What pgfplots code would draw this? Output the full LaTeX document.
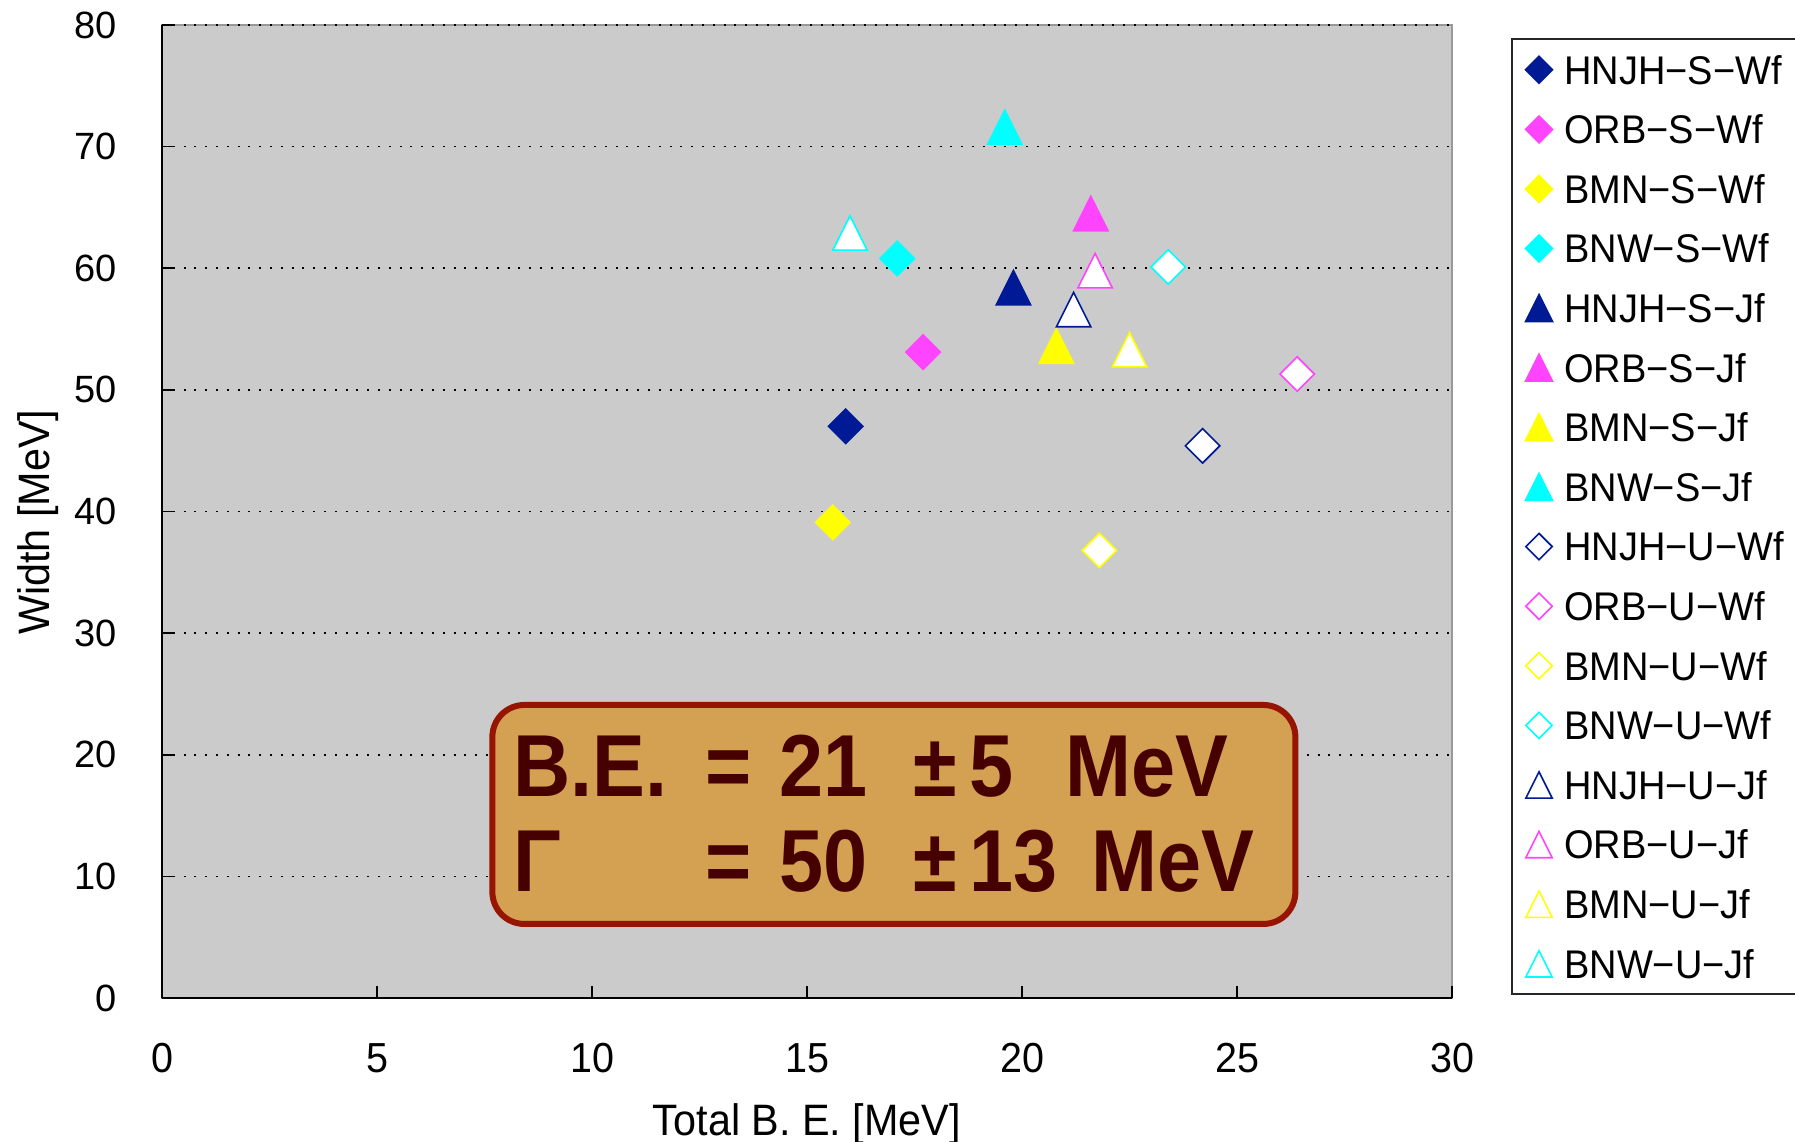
\documentclass[border=0pt]{standalone}
\usepackage{fontspec}
\setmainfont{Liberation Sans}
\newfontfamily\narrow[FakeStretch=0.94]{Liberation Sans}
\newfontfamily\legfont[FakeStretch=0.95]{Liberation Sans}
\newfontfamily\boxfont[FakeStretch=0.9]{Liberation Sans}
\usepackage{pgfplots}
\pgfplotsset{compat=1.18}

\definecolor{cNavy}{RGB}{0,26,150}
\definecolor{cMag}{RGB}{255,68,255}
\definecolor{cYel}{RGB}{255,255,0}
\definecolor{cCya}{RGB}{0,255,255}
\definecolor{bg}{RGB}{203,203,203}
\definecolor{boxfill}{RGB}{212,160,82}
\definecolor{boxdraw}{RGB}{150,20,0}
\definecolor{boxtext}{RGB}{70,0,0}

% Excel-like markers: square diamond and triangle centred on the point
\pgfdeclareplotmark{xdia}{%
  \pgfpathmoveto{\pgfqpoint{0pt}{\pgfplotmarksize}}%
  \pgfpathlineto{\pgfqpoint{-\pgfplotmarksize}{0pt}}%
  \pgfpathlineto{\pgfqpoint{0pt}{-\pgfplotmarksize}}%
  \pgfpathlineto{\pgfqpoint{\pgfplotmarksize}{0pt}}%
  \pgfpathclose\pgfusepathqfillstroke}
\pgfdeclareplotmark{xtri}{%
  \pgfpathmoveto{\pgfqpoint{0pt}{\pgfplotmarksize}}%
  \pgfpathlineto{\pgfqpoint{-\pgfplotmarksize}{-\pgfplotmarksize}}%
  \pgfpathlineto{\pgfqpoint{\pgfplotmarksize}{-\pgfplotmarksize}}%
  \pgfpathclose\pgfusepathqfillstroke}

\pgfplotsset{
  pt/.style 2 args={only marks, mark=#1, mark size=4.3pt, color=#2,
    mark options={draw=#2, line width=0.5pt},
    legend image code/.code={\draw[##1,mark size=3.3pt] plot coordinates {(0pt,0pt)};}},
  sfill/.style 2 args={pt={#1}{#2}, mark options={fill=#2}},
  sopen/.style 2 args={pt={#1}{#2}, mark options={fill=white, line width=0.4pt}},
}

\begin{document}
\begin{tikzpicture}
\begin{axis}[
  scale only axis, width=322.5pt, height=243.25pt,
  xmin=0, xmax=30, ymin=0, ymax=80,
  xtick={0,5,...,30}, ytick={0,10,...,80},
  axis background/.style={fill=bg, draw=gray!80, line width=0.4pt},
  axis x line*=bottom, axis y line*=left,
  axis line style={black, line width=0.6pt, -},
  tick align=inside, major tick length=3pt,
  tick style={black, line width=0.4pt},
  ymajorgrids,
  grid style={black, line width=0.4pt, dash pattern=on 0.5pt off 2.2pt},
  /pgf/number format/assume math mode=true,
  xticklabel style={font=\narrow\fontsize{10.5}{12}\selectfont},
  yticklabel style={font=\fontsize{9.5}{11}\selectfont},
  xticklabel shift=7.8pt, yticklabel shift=7.7pt,
  xlabel={Total B.\ E.\ [MeV]},
  ylabel={Width [MeV]},
  xlabel style={font=\narrow\fontsize{11}{12}\selectfont, at={(axis description cs:0.5,-0.1295)}, anchor=center},
  ylabel style={font=\narrow\fontsize{11}{12}\selectfont, at={(axis description cs:-0.096,0.489)}, anchor=center},
  legend cell align=left,
  legend style={at={(axis description cs:1,1)}, anchor=north west,
    xshift=14.75pt, yshift=-3.3pt, draw=black!85, line width=0.5pt, fill=white,
    font=\legfont\fontsize{10}{12}\selectfont,
    inner xsep=3.45pt, inner ysep=0.2pt, row sep=0pt, column sep=3.0pt,
    nodes={inner sep=0pt, text height=11.05pt, text depth=3.85pt}},
]
\addplot[sfill={xdia}{cNavy}] coordinates {(15.9,47.0)};
\addplot[sfill={xdia}{cMag}]  coordinates {(17.7,53.1)};
\addplot[sfill={xdia}{cYel}]  coordinates {(15.6,39.1)};
\addplot[sfill={xdia}{cCya}]  coordinates {(17.1,60.8)};
\addplot[sfill={xtri}{cNavy}] coordinates {(19.8,58.4)};
\addplot[sfill={xtri}{cMag}]  coordinates {(21.6,64.5)};
\addplot[sfill={xtri}{cYel}]  coordinates {(20.8,53.6)};
\addplot[sfill={xtri}{cCya}]  coordinates {(19.6,71.6)};
\addplot[sopen={xdia}{cNavy}] coordinates {(24.2,45.4)};
\addplot[sopen={xdia}{cMag}]  coordinates {(26.4,51.3)};
\addplot[sopen={xdia}{cYel}]  coordinates {(21.8,36.8)};
\addplot[sopen={xdia}{cCya}]  coordinates {(23.4,60.1)};
\addplot[sopen={xtri}{cNavy}] coordinates {(21.2,56.6)};
\addplot[sopen={xtri}{cMag}]  coordinates {(21.7,59.8)};
\addplot[sopen={xtri}{cYel}]  coordinates {(22.5,53.3)};
\addplot[sopen={xtri}{cCya}]  coordinates {(16.0,62.9)};
\legend{HNJH−S−Wf, ORB−S−Wf, BMN−S−Wf, BNW−S−Wf,
        HNJH−S−Jf, ORB−S−Jf, BMN−S−Jf, BNW−S−Jf,
        HNJH−U−Wf, ORB−U−Wf, BMN−U−Wf, BNW−U−Wf,
        HNJH−U−Jf, ORB−U−Jf, BMN−U−Jf, BNW−U−Jf}

% result box
\node[draw=boxdraw, line width=1.5pt, fill=boxfill, rounded corners=8pt,
      minimum width=200.75pt, minimum height=54.75pt, inner sep=0pt]
      at (axis cs:17.02,15.09) {};
\begin{scope}[every node/.style={anchor=base west, inner sep=0pt, text=boxtext,
      font=\boxfont\bfseries\fontsize{22}{24}\selectfont}]
\node at (axis cs:8.15,16.6) {B.E.};
\node at (axis cs:12.62,16.6) {=};
\node at (axis cs:14.35,16.6) {21};
\node at (axis cs:17.45,16.6) {±};
\node at (axis cs:18.75,16.6) {5};
\node at (axis cs:21.0,16.6) {MeV};
\node at (axis cs:8.15,8.72) {Γ};
\node at (axis cs:12.62,8.72) {=};
\node at (axis cs:14.35,8.72) {50};
\node at (axis cs:17.45,8.72) {±};
\node at (axis cs:18.75,8.72) {13};
\node at (axis cs:21.6,8.72) {MeV};
\end{scope}
\coordinate (SW) at (rel axis cs:0,0);
\end{axis}
\pgfresetboundingbox
\path[use as bounding box] ([shift={(-40.5pt,-36pt)}]SW) rectangle ++(448.75pt,285.5pt);
\end{tikzpicture}
\end{document}
